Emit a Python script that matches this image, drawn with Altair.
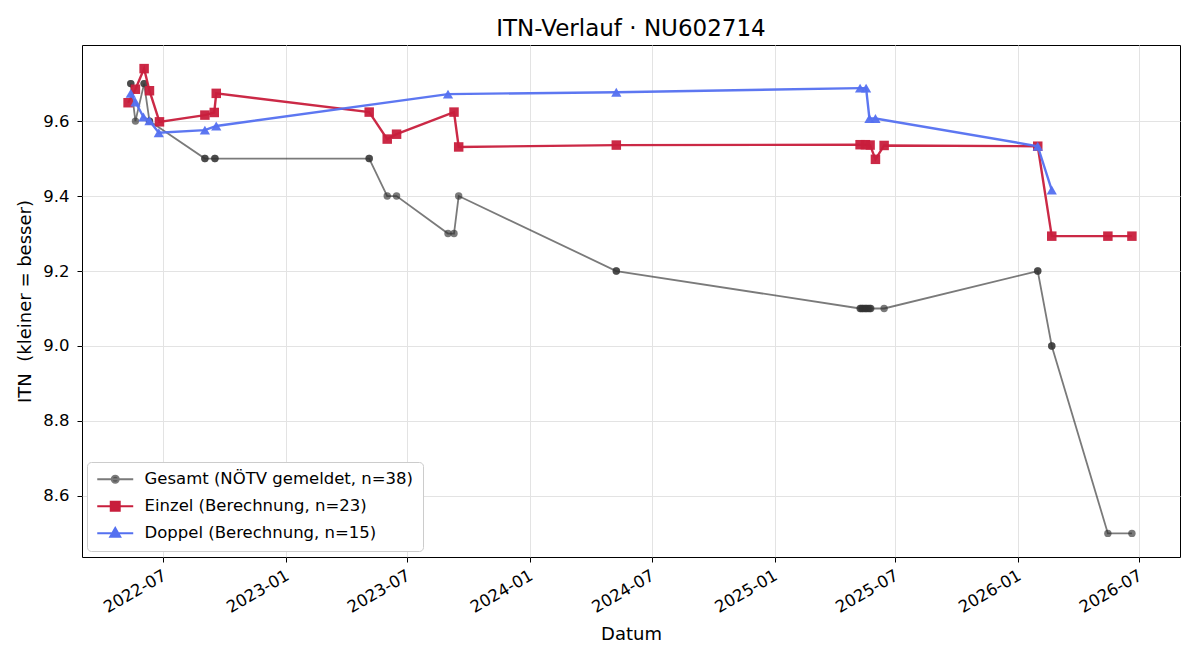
import altair as alt
import pandas as pd

# ---------------- data ----------------
gesamt_dates = [
    "2022-05-13", "2022-05-13", "2022-05-20", "2022-06-02", "2022-06-02",
    "2022-06-10", "2022-06-10", "2022-09-01", "2022-09-01", "2022-09-16",
    "2022-09-16", "2023-05-05", "2023-05-05", "2023-06-01", "2023-06-15",
    "2023-08-31", "2023-09-09", "2023-09-16", "2024-05-09", "2024-05-09",
    "2025-05-09", "2025-05-10", "2025-05-12", "2025-05-13", "2025-05-15",
    "2025-05-17", "2025-05-18", "2025-05-20", "2025-05-22", "2025-05-24",
    "2025-05-25", "2025-06-14", "2026-01-30", "2026-01-30", "2026-02-20",
    "2026-02-20", "2026-05-15", "2026-06-20",
]
gesamt_vals = [
    9.7, 9.7, 9.6, 9.7, 9.7,
    9.6, 9.6, 9.5, 9.5, 9.5,
    9.5, 9.5, 9.5, 9.4, 9.4,
    9.3, 9.3, 9.4, 9.2, 9.2,
    9.1, 9.1, 9.1, 9.1, 9.1,
    9.1, 9.1, 9.1, 9.1, 9.1,
    9.1, 9.1, 9.2, 9.2, 9.0,
    9.0, 8.5, 8.5,
]

einzel_dates = [
    "2022-05-09", "2022-05-20", "2022-06-02", "2022-06-10", "2022-06-25",
    "2022-09-01", "2022-09-15", "2022-09-18", "2023-05-05", "2023-06-01",
    "2023-06-15", "2023-09-09", "2023-09-16", "2024-05-09", "2025-05-09",
    "2025-05-17", "2025-05-24", "2025-06-01", "2025-06-14", "2026-01-30",
    "2026-02-20", "2026-05-15", "2026-06-20",
]
einzel_vals = [
    9.649, 9.685, 9.740, 9.681, 9.598,
    9.616, 9.623, 9.674, 9.624, 9.552,
    9.565, 9.624, 9.531, 9.536, 9.537,
    9.537, 9.536, 9.498, 9.535, 9.533,
    9.293, 9.293, 9.293,
]

doppel_dates = [
    "2022-05-13", "2022-05-20", "2022-06-01", "2022-06-10", "2022-06-24",
    "2022-09-01", "2022-09-18", "2023-08-31", "2024-05-09", "2025-05-09",
    "2025-05-18", "2025-05-23", "2025-06-01", "2026-01-30", "2026-02-20",
]
doppel_vals = [
    9.674, 9.651, 9.611, 9.601, 9.569,
    9.576, 9.587, 9.672, 9.677, 9.688,
    9.688, 9.607, 9.607, 9.533, 9.416,
]

series_names = [
    "Gesamt (NÖTV gemeldet, n=38)",
    "Einzel (Berechnung, n=23)",
    "Doppel (Berechnung, n=15)",
]
x_tick_values = ["2022-07-01", "2023-01-01", "2023-07-01", "2024-01-01", "2024-07-01",
                 "2025-01-01", "2025-07-01", "2026-01-01", "2026-07-01"]
y_tick_values = [8.6, 8.8, 9.0, 9.2, 9.4, 9.6]
x_domain = ["2022-03-01", "2026-08-31"]
y_domain = [8.437, 9.803]

# ---------------- styling ----------------
GRAY = "#333333"
RED = "#C81E3C"
BLUE = "#5470F0"


def utc_dt(s):
    y, m, d = (int(p) for p in s.split("-"))
    return alt.DateTime(year=y, month=m, date=d, utc=True)


frames = []
for name, dts, vals in [
    (series_names[0], gesamt_dates, gesamt_vals),
    (series_names[1], einzel_dates, einzel_vals),
    (series_names[2], doppel_dates, doppel_vals),
]:
    frames.append(pd.DataFrame({"date": dts, "itn": vals, "series": name}))
df = pd.concat(frames, ignore_index=True)

x_enc = alt.X(
    "date:T",
    scale=alt.Scale(type="utc", domain=[utc_dt(d) for d in x_domain], nice=False),
    axis=alt.Axis(
        title="Datum",
        values=[utc_dt(d) for d in x_tick_values],
        labelExpr="utcFormat(datum.value, '%Y-%m')",
        labelAngle=-30,
        labelAlign="right",
        labelBaseline="top",
        labelPadding=5,
        labelOffset=-3,
        titlePadding=10,
    ),
)
y_enc = alt.Y(
    "itn:Q",
    scale=alt.Scale(domain=y_domain, nice=False, zero=False),
    axis=alt.Axis(
        title="ITN\u00a0 (kleiner = besser)",
        values=y_tick_values,
        format=".1f",
        labelPadding=8,
        titlePadding=8,
    ),
)

styles = [
    (series_names[0], GRAY, 1.8, 0.65, "circle", 55),
    (series_names[1], RED, 2.4, 0.95, "square", 90),
    (series_names[2], BLUE, 2.4, 0.95, "triangle-up", 105),
]

layers = []
for name, col, sw, op, shp, sz in styles:
    base = alt.Chart(df).transform_filter(alt.datum.series == name)
    layers.append(
        base.mark_line(color=col, strokeWidth=sw, opacity=op).encode(x=x_enc, y=y_enc)
    )
    layers.append(
        base.mark_point(shape=shp, filled=True, size=sz, color=col, opacity=op).encode(
            x=x_enc, y=y_enc
        )
    )

# legend symbols: line segment + marker (custom paths, unit = 7px at size 196)
legend_paths = [
    "M-1,0L4.14,0M1.07,0A0.5,0.5,0,1,1,2.07,0A0.5,0.5,0,1,1,1.07,0Z",
    "M-1,0L4.14,0M0.93,-0.64L2.21,-0.64L2.21,0.64L0.93,0.64Z",
    "M-1,0L4.14,0M1.57,-0.75L2.28,0.5L0.86,0.5Z",
]
legend_kw = dict(
    title=None,
    orient="none",
    legendX=5,
    legendY=417,
    labelFontSize=16.5,
    labelLimit=400,
    labelOffset=32,
    symbolSize=196,
    symbolStrokeWidth=2,
    rowPadding=9,
    padding=9,
    fillColor="white",
    strokeColor="#cccccc",
    cornerRadius=4,
)
legend_layer = (
    alt.Chart(df)
    .transform_filter("false")
    .mark_point(filled=True, opacity=1, size=196)
    .encode(
        x=x_enc,
        y=y_enc,
        shape=alt.Shape(
            "series:N",
            scale=alt.Scale(domain=series_names, range=legend_paths),
            legend=alt.Legend(**legend_kw),
        ),
        fill=alt.Fill(
            "series:N",
            scale=alt.Scale(domain=series_names, range=["#555555", RED, BLUE]),
            legend=alt.Legend(**legend_kw),
        ),
        stroke=alt.Stroke(
            "series:N",
            scale=alt.Scale(domain=series_names, range=["#7a7a7a", RED, BLUE]),
            legend=alt.Legend(**legend_kw),
        ),
    )
)
layers.append(legend_layer)

chart = (
    alt.layer(*layers)
    .properties(
        width=1098,
        height=512,
        autosize=alt.AutoSizeParams(type="none"),
        padding={"left": 82, "top": 45, "right": 20, "bottom": 103},
        title=alt.Title(
            "ITN-Verlauf · NU602714",
            fontSize=23,
            fontWeight="normal",
            font="DejaVu Sans",
            color="black",
            offset=4,
            anchor="middle",
        ),
    )
    .configure(font="DejaVu Sans")
    .configure_view(stroke="black", strokeWidth=1)
    .configure_axis(
        domain=False,
        grid=True,
        gridColor="#e3e3e3",
        gridWidth=1,
        tickColor="black",
        tickSize=5,
        labelFontSize=16.5,
        labelColor="black",
        labelFont="DejaVu Sans",
        titleFontSize=18,
        titleFont="DejaVu Sans",
        titleFontWeight="normal",
        titleColor="black",
    )
    .configure_legend(labelFont="DejaVu Sans", labelColor="black")
)

chart.save("out.html", embed_options={"renderer": "svg", "actions": False})
